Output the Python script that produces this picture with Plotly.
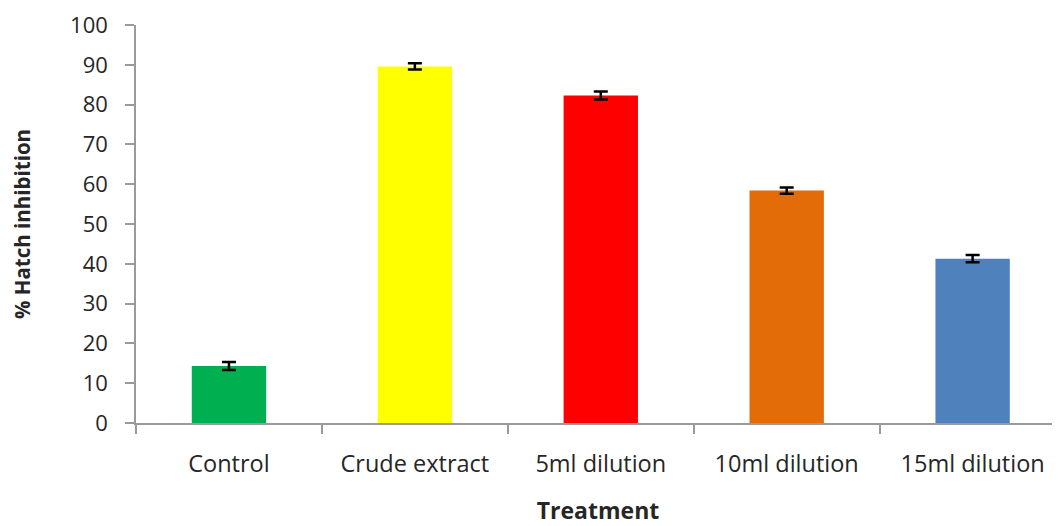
import plotly.graph_objects as go

categories = ["Control", "Crude extract", "5ml dilution", "10ml dilution", "15ml dilution"]
values = [14.3, 89.6, 82.3, 58.4, 41.3]
errors = [1.0, 0.8, 1.0, 0.8, 0.9]
colors = ["#00B050", "#FFFF00", "#FF0000", "#E36C09", "#4F81BD"]
y_ticks = [0, 10, 20, 30, 40, 50, 60, 70, 80, 90, 100]

fig = go.Figure(go.Bar(
    x=categories, y=values,
    marker=dict(color=colors, line=dict(width=0)),
    width=0.4,
    error_y=dict(type="data", array=errors, visible=True, color="black", thickness=2.5, width=7),
))

font = "Open Sans, sans-serif"
fig.update_layout(
    width=1052, height=518,
    margin=dict(l=128, r=0, t=17, b=103),
    plot_bgcolor="white", paper_bgcolor="white",
    showlegend=False,
    font=dict(family=font, color="#262626"),
    xaxis=dict(
        range=[-0.5, 4.47], automargin=False,
        showline=True, linecolor="#9a9a9a", linewidth=1.5,
        ticks="outside", tickson="boundaries", ticklen=9, tickcolor="#9a9a9a", tickwidth=1.5,
        tickfont=dict(size=23.5, color="#262626"),
        ticklabelstandoff=19,
        title=dict(text="<b>Treatment</b>", font=dict(size=23, color="#262626"), standoff=32),
        showgrid=False,
    ),
    yaxis=dict(
        range=[0, 100], tickvals=y_ticks, automargin=False,
        showline=True, linecolor="#9a9a9a", linewidth=1.5,
        ticks="outside", ticklen=9, tickcolor="#9a9a9a", tickwidth=1.5,
        tickfont=dict(size=22, color="#262626"),
        ticklabelstandoff=13,
        title=dict(text="<b>% Hatch inhibition</b>", font=dict(size=20.5, color="#262626"), standoff=35),
        showgrid=False, zeroline=False,
    ),
)

fig.write_html("out.html")
